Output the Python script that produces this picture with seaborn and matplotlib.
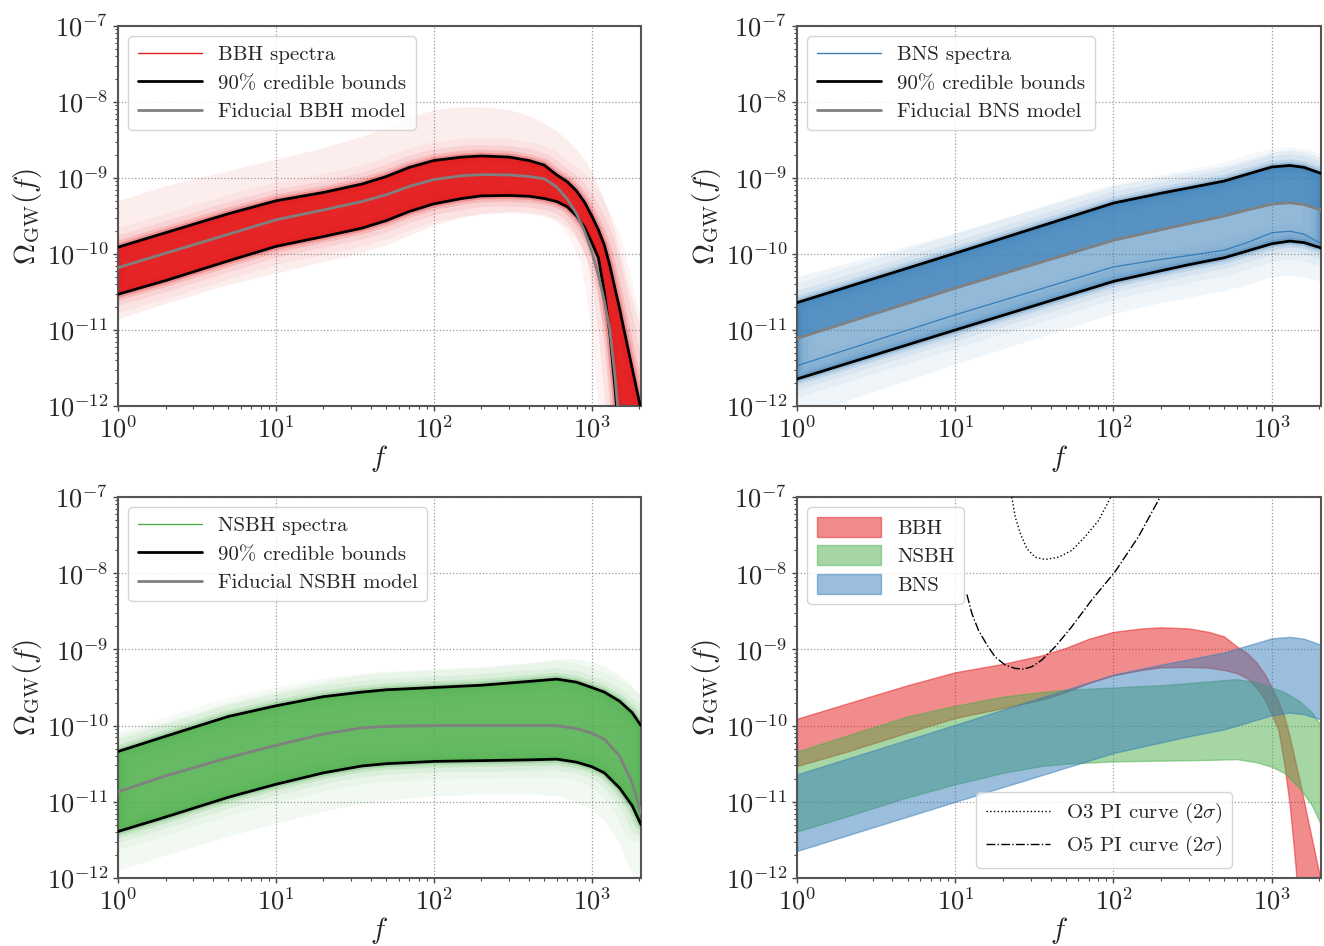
import numpy as np
import matplotlib
matplotlib.use("Agg")
import matplotlib.pyplot as plt
import seaborn as sns
from matplotlib.lines import Line2D
from matplotlib.patches import Patch
from matplotlib.ticker import FixedLocator, NullFormatter, LogFormatterSciNotation

# ---------------- data (log10 of Omega_GW) ----------------
FREQ_BBH = [1, 2, 5, 10, 20, 35, 50, 70, 100, 150, 200, 300, 400, 500, 600, 700,
            800, 900, 1000, 1100, 1200, 1300, 1400, 1500, 1600, 1800, 2048]
BBH_UPPER90 = [-9.91, -9.72, -9.47, -9.30, -9.19, -9.08, -8.98, -8.86, -8.77, -8.725, -8.71,
               -8.725, -8.77, -8.83, -8.96, -9.05, -9.17, -9.32, -9.50, -9.68, -9.88, -10.15,
               -10.45, -10.72, -11.00, -11.50, -12.05]
BBH_MEDIAN = [-10.18, -9.99, -9.74, -9.55, -9.42, -9.31, -9.22, -9.11, -9.02, -8.97, -8.955,
              -8.96, -8.98, -9.01, -9.12, -9.28, -9.47, -9.70, -9.97, -10.28, -10.62, -11.00,
              -11.60, -12.30, -13.0, -14.0, -15.0]
BBH_LOWER90 = [-10.53, -10.35, -10.09, -9.90, -9.77, -9.66, -9.56, -9.44, -9.34, -9.27, -9.235,
               -9.23, -9.24, -9.27, -9.31, -9.38, -9.50, -9.65, -9.85, -10.05, -10.50, -11.05,
               -11.75, -12.50, -13.5, -15.0, -16.0]
BBH_ENV_HI = [-9.30, -9.10, -8.90, -8.75, -8.60, -8.45, -8.33, -8.20, -8.10, -8.06, -8.06,
              -8.10, -8.18, -8.28, -8.38, -8.50, -8.62, -8.76, -8.92, -9.10, -9.30, -9.50,
              -9.72, -9.95, -10.20, -10.60, -11.00]
BBH_ENV_LO = [-10.85, -10.65, -10.40, -10.25, -10.10, -9.98, -9.88, -9.75, -9.62, -9.52, -9.47,
              -9.44, -9.45, -9.48, -9.55, -9.65, -9.80, -10.00, -10.25, -10.60, -11.00, -11.60,
              -12.30, -13.0, -14.0, -15.0, -16.0]

FREQ_BNS = [1, 10, 100, 200, 300, 500, 700, 1000, 1300, 1600, 2048]
BNS_UPPER90 = [-10.64, -9.99, -9.33, -9.20, -9.13, -9.04, -8.95, -8.855, -8.835, -8.86, -8.94]
BNS_MEDIAN = [-11.11, -10.45, -9.82, -9.68, -9.60, -9.50, -9.42, -9.345, -9.325, -9.35, -9.42]
BNS_LOWER90 = [-11.645, -11.00, -10.36, -10.22, -10.14, -10.05, -9.96, -9.865, -9.83, -9.85, -9.92]
BNS_SAMPLE = [-11.47, -10.80, -10.17, -10.07, -10.02, -9.95, -9.85, -9.72, -9.70, -9.74, -9.86]
BNS_ENV_HI = [-10.30, -9.72, -9.10, -8.98, -8.92, -8.84, -8.76, -8.66, -8.63, -8.66, -8.72]
BNS_ENV_LO = [-12.15, -11.45, -10.78, -10.64, -10.57, -10.48, -10.40, -10.30, -10.28, -10.30, -10.36]

FREQ_NSBH = [1, 2, 5, 10, 20, 35, 50, 100, 200, 400, 600, 800, 1000, 1200, 1500, 1800, 2048]
NSBH_UPPER90 = [-10.34, -10.14, -9.88, -9.74, -9.62, -9.56, -9.53, -9.50, -9.47, -9.42, -9.39,
                -9.43, -9.50, -9.56, -9.68, -9.83, -10.00]
NSBH_MEDIAN = [-10.87, -10.66, -10.42, -10.26, -10.11, -10.03, -10.01, -10.00, -10.00, -10.00,
               -10.00, -10.04, -10.10, -10.18, -10.40, -10.75, -11.15]
NSBH_LOWER90 = [-11.39, -11.20, -10.94, -10.77, -10.62, -10.53, -10.50, -10.47, -10.46, -10.45,
                -10.44, -10.48, -10.54, -10.62, -10.82, -11.05, -11.30]
NSBH_ENV_HI = [-10.12, -9.95, -9.70, -9.55, -9.42, -9.33, -9.30, -9.27, -9.24, -9.18, -9.12,
               -9.12, -9.16, -9.22, -9.33, -9.48, -9.62]
NSBH_ENV_LO = [-11.90, -11.70, -11.45, -11.28, -11.12, -11.02, -10.98, -10.92, -10.90, -10.90,
               -10.92, -11.00, -11.10, -11.25, -11.55, -11.95, -12.40]

FREQ_O3 = [22.8, 23.9, 25.8, 28.4, 32.0, 37.0, 45.0, 54.6, 66.2, 80.4, 96.2]
O3_PI_LOG10 = [-7.0, -7.26, -7.48, -7.68, -7.79, -7.82, -7.79, -7.70, -7.52, -7.31, -7.0]
FREQ_O5 = [11.85, 12.74, 14.03, 15.85, 17.89, 20.69, 23.93, 27.02, 30.5, 35.24, 42.8,
           54.6, 72.9, 102.4, 143.9, 197.1]
O5_PI_LOG10 = [-8.28, -8.53, -8.75, -8.94, -9.10, -9.205, -9.25, -9.258, -9.227, -9.14,
               -8.965, -8.70, -8.35, -7.98, -7.52, -7.0]

POPS = ["BBH", "NSBH", "BNS"]
X_TICKS = [1, 10, 100, 1000]
Y_TICKS = [1e-12, 1e-11, 1e-10, 1e-9, 1e-8, 1e-7]

# ---------------- style ----------------
sns.set_style("ticks")
plt.rcParams.update({
    "font.family": "serif",
    "font.serif": ["cmr10", "DejaVu Serif"],
    "mathtext.fontset": "cm",
    "axes.formatter.use_mathtext": True,
    "axes.unicode_minus": True,
})

pal = sns.color_palette("Set1")
C_BBH, C_BNS, C_NSBH = pal[0], pal[1], pal[2]

fig = plt.figure(figsize=(13.24, 9.46), dpi=100)
W, H = 1324, 946
def rect(l, r, t, b):
    return [l / W, 1 - b / H, (r - l) / W, (b - t) / H]

ax_bbh = fig.add_axes(rect(118, 641, 26, 406))
ax_bns = fig.add_axes(rect(797, 1321, 26, 406))
ax_nsbh = fig.add_axes(rect(118, 641, 497, 878))
ax_all = fig.add_axes(rect(797, 1321, 497, 878))

LEG_KW = dict(fontsize=15, handlelength=3.1, handletextpad=0.75, borderpad=0.45,
              framealpha=0.8)


def L(a):
    return 10 ** np.asarray(a, dtype=float)


def minor_positions(lo_exp, hi_exp, vmax):
    return [m * 10.0 ** e for e in range(lo_exp, hi_exp) for m in range(2, 10)
            if m * 10.0 ** e <= vmax]


def style_axis(ax):
    ax.set_xscale("log")
    ax.set_yscale("log")
    ax.set_xlim(1, 2048)
    ax.set_ylim(1e-12, 1e-7)
    ax.xaxis.set_major_locator(FixedLocator(X_TICKS))
    ax.yaxis.set_major_locator(FixedLocator(Y_TICKS))
    ax.xaxis.set_major_formatter(LogFormatterSciNotation())
    ax.yaxis.set_major_formatter(LogFormatterSciNotation())
    ax.xaxis.set_minor_locator(FixedLocator(minor_positions(0, 4, 2048)))
    ax.yaxis.set_minor_locator(FixedLocator(minor_positions(-12, -7, 1e-7)))
    ax.xaxis.set_minor_formatter(NullFormatter())
    ax.yaxis.set_minor_formatter(NullFormatter())
    ax.grid(True, which="major", ls=":", lw=0.9, color="#9a9a9a")
    for s in ax.spines.values():
        s.set_color("#555555")
        s.set_linewidth(1.5)
    ax.tick_params(which="major", length=3.5, width=1.0, color="#444444", labelsize=19)
    ax.tick_params(which="minor", length=2.2, width=0.8, color="#444444")
    ax.set_xlabel(r"$f$", fontsize=21, labelpad=0)
    ax.set_ylabel(r"$\Omega_{\rm GW}(f)$", fontsize=21, labelpad=2)


def spectra_panel(ax, freq, env_lo, env_hi, lo, med, hi, color, name,
                  core_alpha=0.95, upper_core=None, sample=None):
    F = np.asarray(freq, dtype=float)
    ax.fill_between(F, L(env_lo), L(env_hi), color=color, alpha=0.07, lw=0, zorder=1)
    for lw, a in [(26, 0.05), (16, 0.08), (9, 0.14), (5, 0.25)]:
        ax.fill_between(F, L(lo), L(hi), facecolor="none", edgecolor=color,
                        lw=lw, alpha=a, zorder=1.5)
    ax.fill_between(F, L(lo), L(hi), color=color, alpha=core_alpha, lw=0, zorder=2)
    if upper_core is not None:
        ax.fill_between(F, L(med), L(hi), color=color, alpha=upper_core, lw=0, zorder=2.1)
    if sample is not None:
        sns.lineplot(x=F, y=L(sample), ax=ax, color=color, lw=0.9, zorder=2.5)
    sns.lineplot(x=F, y=L(hi), ax=ax, color="black", lw=2.0, zorder=3)
    sns.lineplot(x=F, y=L(lo), ax=ax, color="black", lw=2.0, zorder=3)
    sns.lineplot(x=F, y=L(med), ax=ax, color="grey", lw=2.0, zorder=3.1)
    style_axis(ax)
    handles = [
        Line2D([], [], color=color, lw=1.0, label=f"{name} spectra"),
        Line2D([], [], color="black", lw=2.0, label="90% credible bounds"),
        Line2D([], [], color="grey", lw=2.0, label=f"Fiducial {name} model"),
    ]
    leg = ax.legend(handles=handles, loc="upper left", labelspacing=0.47, **LEG_KW)
    leg.set_zorder(10)


spectra_panel(ax_bbh, FREQ_BBH, BBH_ENV_LO, BBH_ENV_HI, BBH_LOWER90, BBH_MEDIAN,
              BBH_UPPER90, C_BBH, "BBH", core_alpha=0.95)
spectra_panel(ax_bns, FREQ_BNS, BNS_ENV_LO, BNS_ENV_HI, BNS_LOWER90, BNS_MEDIAN,
              BNS_UPPER90, C_BNS, "BNS", core_alpha=0.5, upper_core=0.65,
              sample=BNS_SAMPLE)
spectra_panel(ax_nsbh, FREQ_NSBH, NSBH_ENV_LO, NSBH_ENV_HI, NSBH_LOWER90, NSBH_MEDIAN,
              NSBH_UPPER90, C_NSBH, "NSBH", core_alpha=0.85)

# ---------------- comparison panel ----------------
bands = {
    "BBH": (FREQ_BBH, BBH_LOWER90, BBH_UPPER90, C_BBH),
    "NSBH": (FREQ_NSBH, NSBH_LOWER90, NSBH_UPPER90, C_NSBH),
    "BNS": (FREQ_BNS, BNS_LOWER90, BNS_UPPER90, C_BNS),
}
patches = []
for name in POPS:
    f, lo, hi, c = bands[name]
    ax_all.fill_between(np.asarray(f, float), L(lo), L(hi), facecolor=c, alpha=0.5,
                        edgecolor=c, lw=1.0, zorder=2)
    patches.append(Patch(facecolor=c, edgecolor=c, alpha=0.5, label=name))

sns.lineplot(x=FREQ_O3, y=L(O3_PI_LOG10), ax=ax_all, color="black", lw=1.0,
             ls=":", zorder=3)
sns.lineplot(x=FREQ_O5, y=L(O5_PI_LOG10), ax=ax_all, color="black", lw=1.0,
             ls="-.", zorder=3)
style_axis(ax_all)
leg1 = ax_all.legend(handles=patches, loc="upper left", handleheight=1.1,
                     labelspacing=0.36, **LEG_KW)
ax_all.add_artist(leg1)
pi_handles = [
    Line2D([], [], color="black", lw=1.0, ls=":", label=r"O3 PI curve $(2\sigma)$"),
    Line2D([], [], color="black", lw=1.0, ls="-.", label=r"O5 PI curve $(2\sigma)$"),
]
leg2 = ax_all.legend(handles=pi_handles, loc="lower right", bbox_to_anchor=(0.85, 0.0),
                     labelspacing=0.42, **LEG_KW)

fig.savefig("out.png", dpi=100)
